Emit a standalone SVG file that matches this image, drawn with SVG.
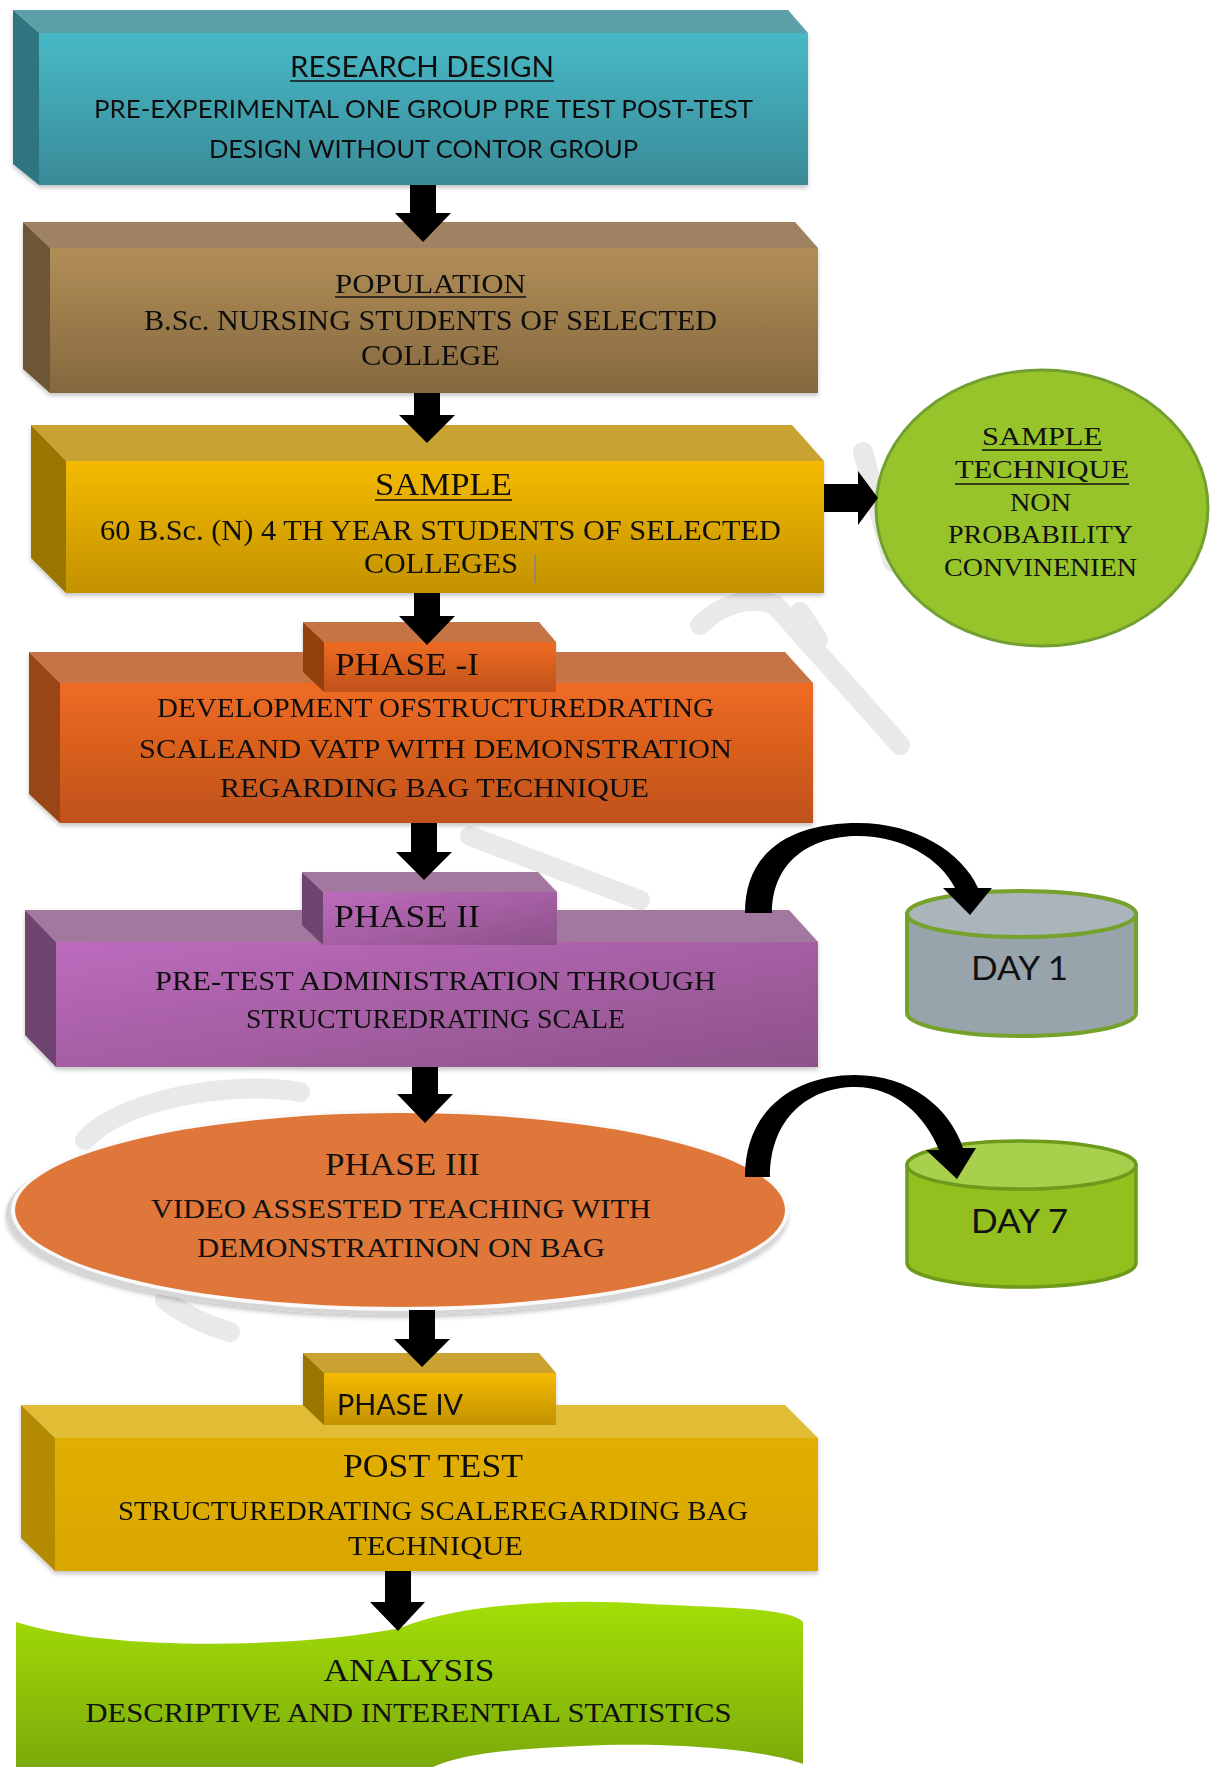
<svg xmlns="http://www.w3.org/2000/svg" width="1213" height="1767" viewBox="0 0 1213 1767">
<defs>
<style>
.serif{font-family:"Liberation Serif","Times New Roman",serif;fill:#111;text-anchor:middle}
.sans{font-family:Lato,"Liberation Sans",Arial,sans-serif;fill:#111;text-anchor:middle}
.ul{stroke:#111;stroke-width:1.6}
.arrow{fill:#000}
.wm{fill:none;stroke:#e9e9e9;stroke-width:20;stroke-linecap:round;stroke-linejoin:round}
</style>
<filter id="sh" x="-5%" y="-5%" width="110%" height="115%">
<feDropShadow dx="0" dy="3" stdDeviation="2" flood-color="#000" flood-opacity="0.22"/>
</filter>
<linearGradient id="gTeal" x1="0" y1="0" x2="0" y2="1"><stop offset="0" stop-color="#48b9c7"/><stop offset="1" stop-color="#3a8a97"/></linearGradient>
<linearGradient id="gBrown" x1="0" y1="0" x2="0" y2="1"><stop offset="0" stop-color="#b28e58"/><stop offset="1" stop-color="#84683e"/></linearGradient>
<linearGradient id="gGold" x1="0" y1="0" x2="0" y2="1"><stop offset="0" stop-color="#f4ba00"/><stop offset="1" stop-color="#c39200"/></linearGradient>
<linearGradient id="gOrange" x1="0" y1="0" x2="0" y2="1"><stop offset="0" stop-color="#ef6b22"/><stop offset="1" stop-color="#bf521b"/></linearGradient>
<linearGradient id="gPurple" x1="0" y1="0" x2="1" y2="1"><stop offset="0" stop-color="#bd6bbd"/><stop offset="1" stop-color="#8d5289"/></linearGradient>
<linearGradient id="gYel" x1="0" y1="0" x2="0" y2="1"><stop offset="0" stop-color="#e2af00"/><stop offset="1" stop-color="#d9a600"/></linearGradient>
<linearGradient id="gLime" x1="0" y1="0" x2="0" y2="1"><stop offset="0" stop-color="#a3de06"/><stop offset="1" stop-color="#79a60b"/></linearGradient>
</defs>
<rect width="1213" height="1767" fill="#fff"/>

<g id="watermark">
<path class="wm" d="M 863 452 L 893 562"/>
<path class="wm" d="M 700 625 C 720 605 750 595 775 605 L 900 745"/>
<path class="wm" d="M 470 836 L 640 900"/>
<path class="wm" d="M 800 612 L 818 640"/>
<path class="wm" d="M 300 1092 C 230 1080 120 1100 85 1140"/>
<path class="wm" d="M 165 1300 C 185 1315 205 1325 230 1332"/>
</g>

<g id="research-design" filter="url(#sh)">
<polygon points="13,10 788,10 808,33 39,33" fill="#5b9fa6"/>
<polygon points="13,10 39,33 39,185 13,164" fill="#2e7580"/>
<rect x="39" y="33" width="769" height="152" fill="url(#gTeal)"/>
<text class="sans" x="422" y="77" font-size="28" textLength="264" lengthAdjust="spacingAndGlyphs">RESEARCH DESIGN</text>
<line class="ul" x1="290" y1="81" x2="554" y2="81"/>
<text class="sans" x="423.5" y="118" font-size="25" textLength="659" lengthAdjust="spacingAndGlyphs">PRE-EXPERIMENTAL ONE GROUP PRE TEST POST-TEST</text>
<text class="sans" x="423.5" y="158" font-size="25" textLength="429" lengthAdjust="spacingAndGlyphs">DESIGN WITHOUT CONTOR GROUP</text>
</g>

<g id="population" filter="url(#sh)">
<polygon points="23,222 795,222 818,248 50,248" fill="#9e8262"/>
<polygon points="23,222 50,248 50,393 23,369" fill="#6d5634"/>
<rect x="50" y="248" width="768" height="145" fill="url(#gBrown)"/>
<text class="serif" x="430.5" y="293" font-size="28" textLength="191" lengthAdjust="spacingAndGlyphs">POPULATION</text>
<line class="ul" x1="335" y1="297" x2="526" y2="297"/>
<text class="serif" x="430.5" y="330" font-size="29" textLength="573" lengthAdjust="spacingAndGlyphs">B.Sc. NURSING STUDENTS OF SELECTED</text>
<text class="serif" x="430.5" y="365" font-size="29" textLength="139" lengthAdjust="spacingAndGlyphs">COLLEGE</text>
</g>

<g id="sample" filter="url(#sh)">
<polygon points="31,425 792,425 824,461 66,461" fill="#c9a331"/>
<polygon points="31,425 66,461 66,593 31,558" fill="#9a7500"/>
<rect x="66" y="461" width="758" height="132" fill="url(#gGold)"/>
<text class="serif" x="443.5" y="495" font-size="32" textLength="137" lengthAdjust="spacingAndGlyphs">SAMPLE</text>
<line class="ul" x1="375" y1="500" x2="512" y2="500"/>
<text class="serif" x="440.5" y="540" font-size="29" textLength="681" lengthAdjust="spacingAndGlyphs">60 B.Sc. (N) 4 TH YEAR STUDENTS OF SELECTED</text>
<text class="serif" x="441" y="573" font-size="29" textLength="154" lengthAdjust="spacingAndGlyphs">COLLEGES</text>
<line x1="535" y1="555" x2="535" y2="583" stroke="#6b7fa6" stroke-width="1.2"/>
</g>

<g id="sample-technique">
<ellipse cx="1042" cy="508" rx="166" ry="138" fill="#97c42a" stroke="#72a030" stroke-width="3"/>
<text class="serif" x="1042" y="445" font-size="26" textLength="120" lengthAdjust="spacingAndGlyphs">SAMPLE</text>
<line class="ul" x1="982" y1="450" x2="1102" y2="450"/>
<text class="serif" x="1042" y="478" font-size="26" textLength="174" lengthAdjust="spacingAndGlyphs">TECHNIQUE</text>
<line class="ul" x1="955" y1="484" x2="1129" y2="484"/>
<text class="serif" x="1040.5" y="511" font-size="26" textLength="61" lengthAdjust="spacingAndGlyphs">NON</text>
<text class="serif" x="1040.5" y="543" font-size="26" textLength="185" lengthAdjust="spacingAndGlyphs">PROBABILITY</text>
<text class="serif" x="1040.5" y="576" font-size="26" textLength="193" lengthAdjust="spacingAndGlyphs">CONVINENIEN</text>
</g>

<g id="phase-1" filter="url(#sh)">
<polygon points="29,652 785,652 813,683 60,683" fill="#c57445"/>
<polygon points="29,652 60,683 60,823 29,794" fill="#9a4416"/>
<rect x="60" y="683" width="753" height="140" fill="url(#gOrange)"/>
<polygon points="303,622 539,622 556,642 324,642" fill="#c57445"/>
<polygon points="303,622 324,642 324,692 303,672" fill="#94400f"/>
<rect x="324" y="642" width="232" height="50" fill="url(#gOrange)"/>
<text class="serif" x="407" y="675" font-size="32" textLength="144" lengthAdjust="spacingAndGlyphs">PHASE -I</text>
<text class="serif" x="435.5" y="717" font-size="28" textLength="557" lengthAdjust="spacingAndGlyphs">DEVELOPMENT OFSTRUCTUREDRATING</text>
<text class="serif" x="435.5" y="758" font-size="28" textLength="593" lengthAdjust="spacingAndGlyphs">SCALEAND VATP WITH DEMONSTRATION</text>
<text class="serif" x="434.5" y="797" font-size="28" textLength="429" lengthAdjust="spacingAndGlyphs">REGARDING BAG TECHNIQUE</text>
</g>

<g id="phase-2" filter="url(#sh)">
<polygon points="25,910 789,910 818,942 56,942" fill="#a3789f"/>
<polygon points="25,910 56,942 56,1067 25,1035" fill="#6e4470"/>
<rect x="56" y="942" width="762" height="125" fill="url(#gPurple)"/>
<polygon points="302,872 538,872 557,892 323,892" fill="#a3789f"/>
<polygon points="302,872 323,892 323,945 302,925" fill="#6e4470"/>
<rect x="323" y="892" width="234" height="53" fill="url(#gPurple)"/>
<text class="serif" x="407" y="927" font-size="32" textLength="146" lengthAdjust="spacingAndGlyphs">PHASE II</text>
<text class="serif" x="435.5" y="990" font-size="28" textLength="561" lengthAdjust="spacingAndGlyphs">PRE-TEST ADMINISTRATION THROUGH</text>
<text class="serif" x="435.5" y="1028" font-size="28" textLength="379" lengthAdjust="spacingAndGlyphs">STRUCTUREDRATING SCALE</text>
</g>

<g id="day-1">
<path d="M 907 914 L 907 1013 A 114.5 23 0 0 0 1136 1013 L 1136 914 Z" fill="#98a4ac" stroke="#76a12b" stroke-width="4"/>
<ellipse cx="1021.5" cy="914" rx="114.5" ry="23" fill="#aab4bb" stroke="#76a12b" stroke-width="4"/>
<text class="sans" x="1019.5" y="980" font-size="32" textLength="97" lengthAdjust="spacingAndGlyphs">DAY 1</text>
</g>

<g id="phase-3">
<ellipse cx="397" cy="1214" rx="391" ry="101" fill="#d6d6d6" filter="url(#sh)"/>
<ellipse cx="400" cy="1210" rx="389" ry="101" fill="#fafafa"/>
<ellipse cx="400" cy="1210" rx="385" ry="97" fill="#e0773a"/>
<text class="serif" x="402.5" y="1175" font-size="32" textLength="155" lengthAdjust="spacingAndGlyphs">PHASE III</text>
<text class="serif" x="401" y="1218" font-size="28" textLength="500" lengthAdjust="spacingAndGlyphs">VIDEO ASSESTED TEACHING WITH</text>
<text class="serif" x="401" y="1257" font-size="28" textLength="408" lengthAdjust="spacingAndGlyphs">DEMONSTRATINON ON BAG</text>
</g>

<g id="day-7">
<path d="M 907 1165 L 907 1263 A 114.5 24 0 0 0 1136 1263 L 1136 1165 Z" fill="#93c01f" stroke="#6e9a1c" stroke-width="3.5"/>
<ellipse cx="1021.5" cy="1165" rx="114.5" ry="24" fill="#a9d04c" stroke="#6e9a1c" stroke-width="3.5"/>
<text class="sans" x="1019.5" y="1233" font-size="32" textLength="97" lengthAdjust="spacingAndGlyphs">DAY 7</text>
</g>

<g id="phase-4" filter="url(#sh)">
<polygon points="21,1405 785,1405 818,1438 55,1438" fill="#e1bd36"/>
<polygon points="21,1405 55,1438 55,1571 21,1538" fill="#b38a00"/>
<rect x="55" y="1438" width="763" height="133" fill="url(#gYel)"/>
<polygon points="303,1353 539,1353 556,1373 324,1373" fill="#c9a233"/>
<polygon points="303,1353 324,1373 324,1425 303,1405" fill="#9a7500"/>
<rect x="324" y="1373" width="232" height="52" fill="url(#gGold)"/>
<text class="sans" x="400" y="1415" font-size="28" textLength="126" lengthAdjust="spacingAndGlyphs">PHASE IV</text>
<text class="serif" x="433" y="1477" font-size="34" textLength="180" lengthAdjust="spacingAndGlyphs">POST TEST</text>
<text class="serif" x="433" y="1520" font-size="28" textLength="630" lengthAdjust="spacingAndGlyphs">STRUCTUREDRATING SCALEREGARDING BAG</text>
<text class="serif" x="435.5" y="1555" font-size="28" textLength="175" lengthAdjust="spacingAndGlyphs">TECHNIQUE</text>
</g>

<g id="analysis">
<path d="M 16 1622 C 110 1652 300 1648 400 1628 C 460 1604 560 1598 650 1604 C 730 1608 790 1608 803 1622 L 803 1764 C 760 1748 660 1742 580 1746 C 490 1750 440 1756 412 1780 L 16 1780 Z" fill="url(#gLime)"/>
<text class="serif" x="409" y="1681" font-size="32" textLength="171" lengthAdjust="spacingAndGlyphs">ANALYSIS</text>
<text class="serif" x="408.5" y="1722" font-size="28" textLength="646" lengthAdjust="spacingAndGlyphs">DESCRIPTIVE AND INTERENTIAL STATISTICS</text>
</g>

<g id="connectors">
<path class="arrow" d="M 410 185 L 436 185 L 436 213 L 451 213 L 423 242 L 395 213 L 410 213 Z"/>
<path class="arrow" d="M 414 393 L 440 393 L 440 415 L 455 415 L 427 443 L 399 415 L 414 415 Z"/>
<path class="arrow" d="M 414 593 L 440 593 L 440 616 L 455 616 L 427 645 L 399 616 L 414 616 Z"/>
<path class="arrow" d="M 411 823 L 437 823 L 437 852 L 452 852 L 424 880 L 396 852 L 411 852 Z"/>
<path class="arrow" d="M 412 1067 L 438 1067 L 438 1094 L 453 1094 L 425 1123 L 397 1094 L 412 1094 Z"/>
<path class="arrow" d="M 409 1310 L 435 1310 L 435 1339 L 450 1339 L 422 1367 L 394 1339 L 409 1339 Z"/>
<path class="arrow" d="M 385 1571 L 411 1571 L 411 1602 L 425 1602 L 398 1631 L 370 1602 L 385 1602 Z"/>
<path class="arrow" d="M 824 484 L 858 484 L 858 471 L 878 498 L 858 525 L 858 512 L 824 512 Z"/>
<path class="arrow" d="M 745 913 C 745 845 800 823 858 823 C 915 823 962 852 978 888 L 992 888 L 970 915 L 943 888 L 955 888 C 940 858 902 836 858 836 C 810 836 772 862 772 913 Z"/>
<path class="arrow" d="M 745 1177 C 745 1105 800 1075 855 1075 C 910 1075 950 1108 963 1148 L 976 1148 L 957 1179 L 926 1150 L 939 1150 C 925 1115 895 1087 855 1087 C 810 1087 770 1117 770 1177 Z"/>
</g>
</svg>
